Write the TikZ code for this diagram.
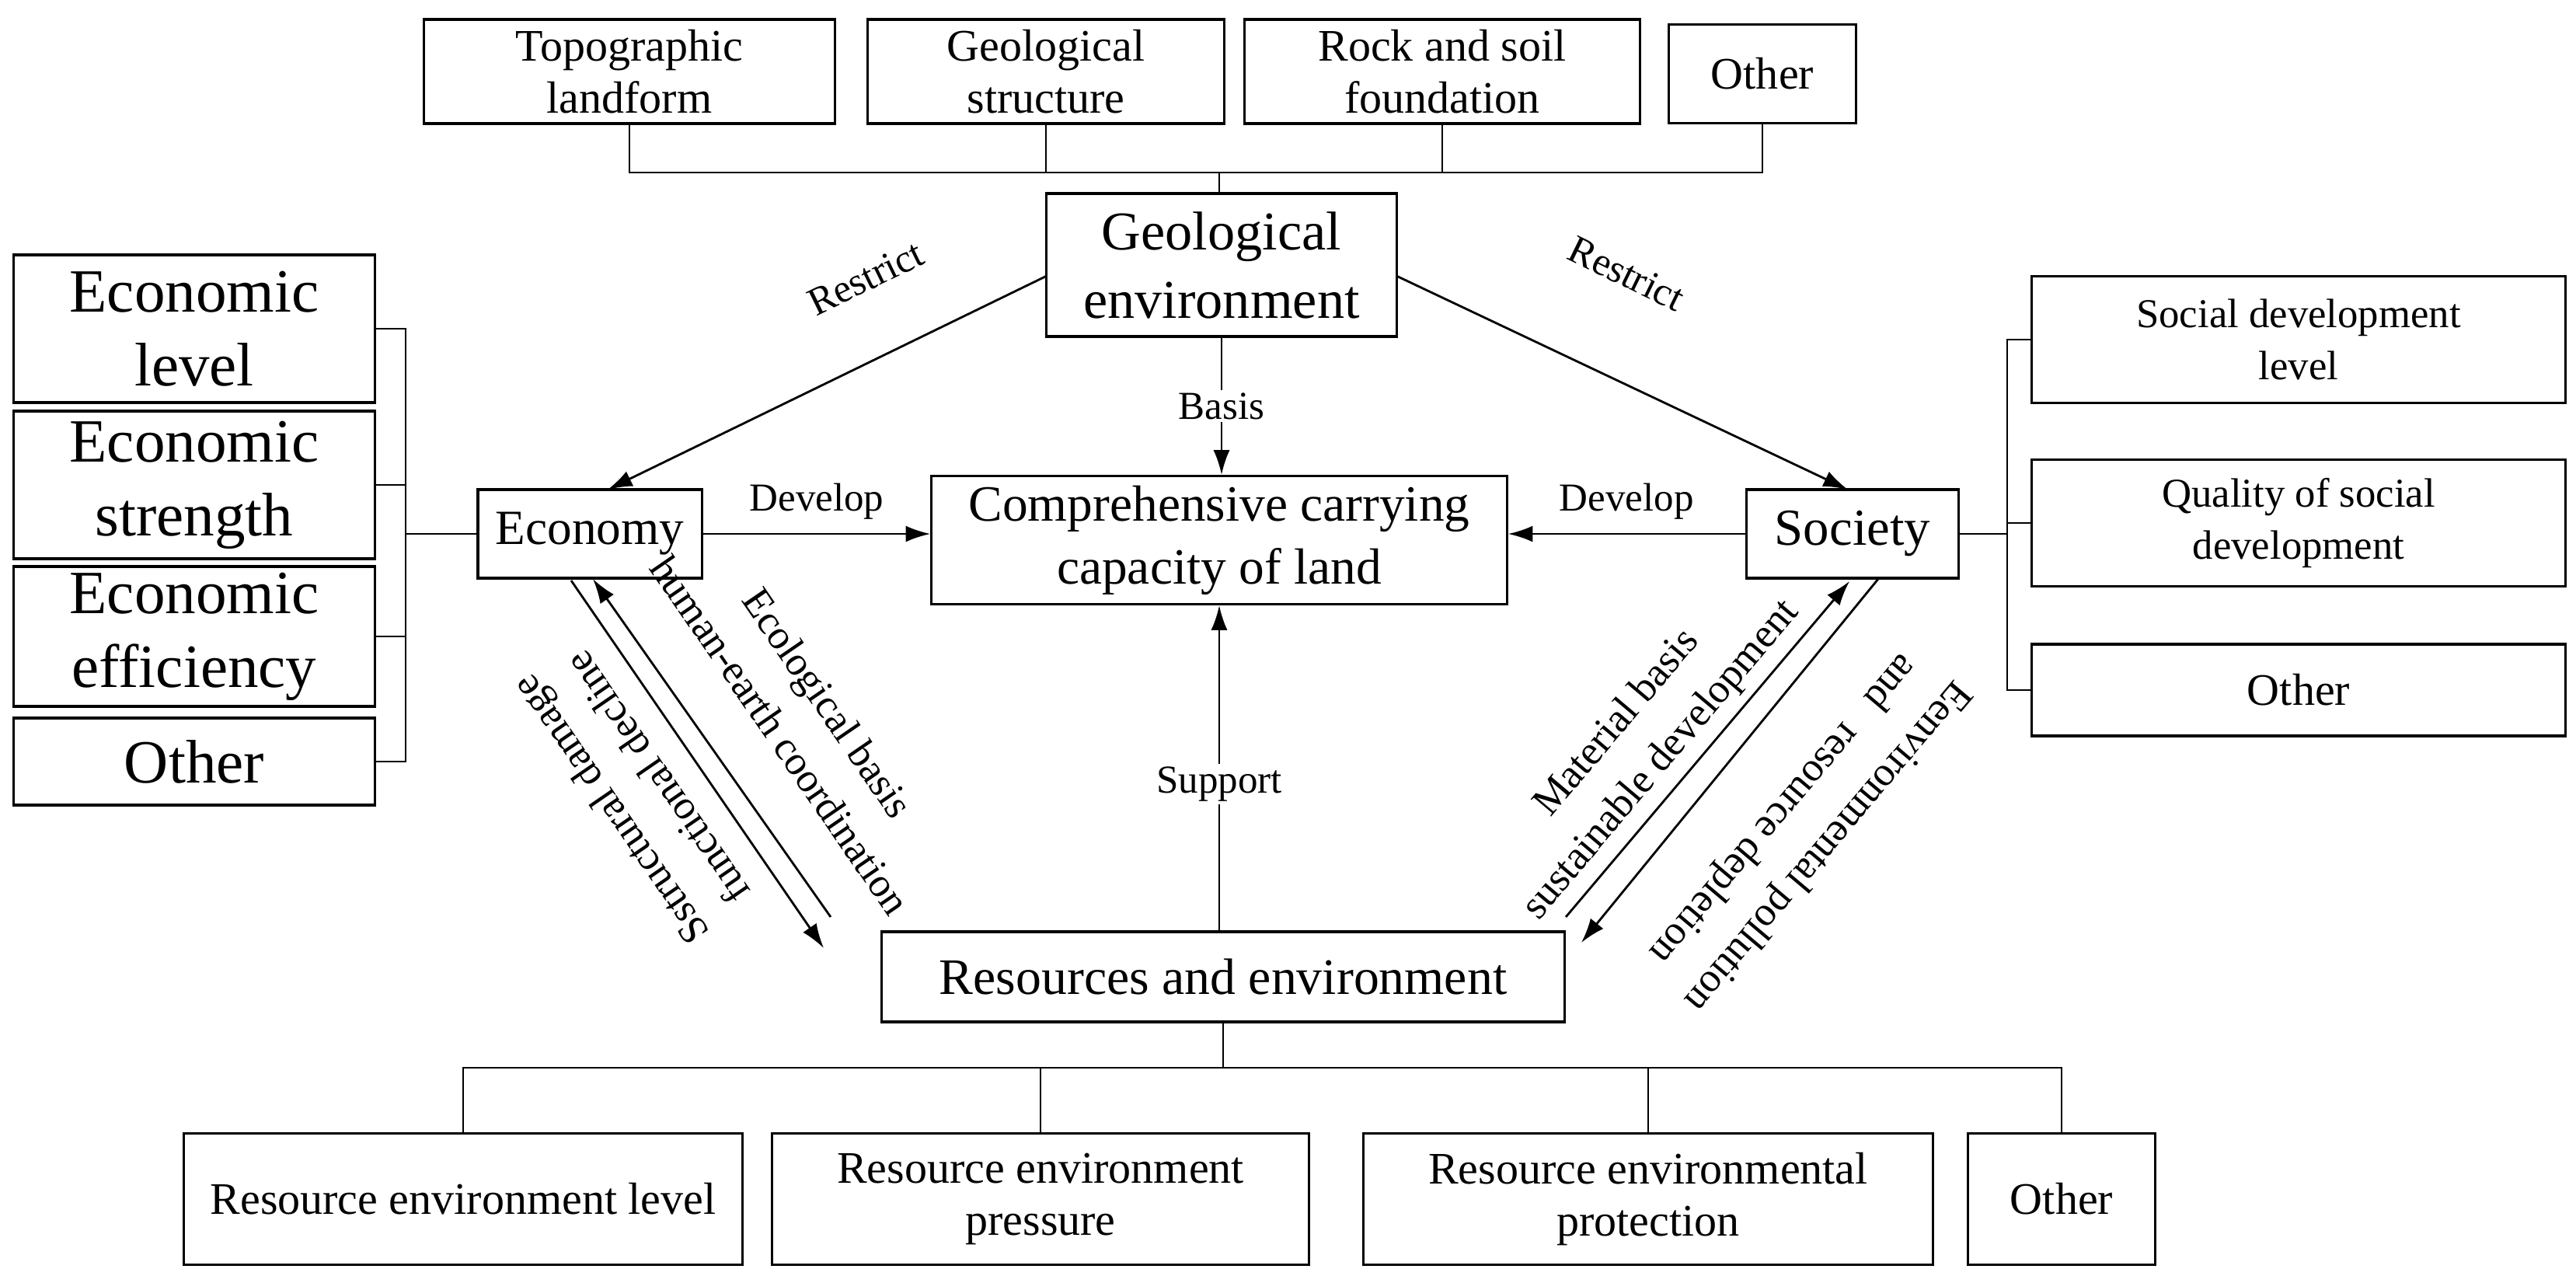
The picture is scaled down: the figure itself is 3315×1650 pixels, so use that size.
\documentclass[tikz,border=0pt]{standalone}
\usepackage{fontspec}
\setmainfont{Liberation Serif}
\usetikzlibrary{arrows.meta}
\begin{document}
\begin{tikzpicture}[x=0.01cm,y=-0.01cm,
  box/.style={draw,line width=0.9pt,align=center,inner sep=0pt},
  ln/.style={line width=0.8pt},
  ar/.style={line width=0.8pt,-{Latex[length=9pt,width=6pt]}},
  lab/.style={font=\fontsize{14.5}{17}\selectfont,align=center,inner sep=1pt},
  dlab/.style={font=\fontsize{15}{21}\selectfont,align=center,inner sep=1pt},
  f15/.style={font=\fontsize{15}{19}\selectfont},
  f16/.style={font=\fontsize{16.5}{19}\selectfont},
  f19/.style={font=\fontsize{19}{23}\selectfont},
  f23/.style={font=\fontsize{22.5}{27}\selectfont}]
\useasboundingbox (0,0) rectangle (3315,1650);
% top
\node[box,f16,minimum width=5.29cm,minimum height=1.34cm] (t1) at (810,92) {Topographic\\landform};
\node[box,f16,minimum width=4.59cm,minimum height=1.34cm] (t2) at (1346,92) {Geological\\structure};
\node[box,f16,minimum width=5.08cm,minimum height=1.34cm] (t3) at (1856,92) {Rock and soil\\foundation};
\node[box,f16,minimum width=2.41cm,minimum height=1.27cm] (t4) at (2268,95) {Other};
\node[box,font=\fontsize{20}{25}\selectfont,minimum width=4.5cm,minimum height=1.84cm] (geo) at (1572,341) {Geological\\environment};
\node[box,font=\fontsize{18}{21}\selectfont,minimum width=2.88cm,minimum height=1.14cm] (eco) at (759,687) {Economy};
\node[box,font=\fontsize{18.6}{23}\selectfont,minimum width=7.4cm,minimum height=1.65cm] (ccc) at (1569,695) {Comprehensive carrying\\capacity of land};
\node[box,f19,minimum width=2.73cm,minimum height=1.14cm] (soc) at (2384,687) {Society};
\node[box,font=\fontsize{18.7}{23}\selectfont,minimum width=8.78cm,minimum height=1.16cm] (res) at (1574,1257) {Resources and environment};
% left
\node[box,f23,minimum width=4.65cm,minimum height=1.9cm] (l1) at (250,423) {Economic\\level};
\node[box,f23,minimum width=4.65cm,minimum height=1.9cm] (l2) at (250,624) {Economic\\strength};
\node[box,f23,minimum width=4.65cm,minimum height=1.8cm] (l3) at (250,819) {Economic\\efficiency};
\node[box,f23,minimum width=4.65cm,minimum height=1.12cm] (l4) at (250,980) {Other};
% right
\node[box,f15,minimum width=6.87cm,minimum height=1.63cm] (r1) at (2958,437) {Social development\\level};
\node[box,f15,minimum width=6.87cm,minimum height=1.63cm] (r2) at (2958,673) {Quality of social\\development};
\node[box,f16,minimum width=6.87cm,minimum height=1.18cm] (r3) at (2958,888) {Other};
% bottom
\node[box,f16,minimum width=7.19cm,minimum height=1.69cm] (b1) at (596,1543) {Resource environment level};
\node[box,f16,minimum width=6.91cm,minimum height=1.69cm] (b2) at (1339,1543) {Resource environment\\pressure};
\node[box,f16,minimum width=7.33cm,minimum height=1.69cm] (b3) at (2121,1543) {Resource environmental\\protection};
\node[box,f16,minimum width=2.41cm,minimum height=1.69cm] (b4) at (2653,1543) {Other};
% top bus
\coordinate (tb) at (1569,222);
\draw[ln] (t1.south) |- (tb) -| (t4.south);
\draw[ln] (t2.south) -- (t2.south |- tb);
\draw[ln] (t3.south) -- (t3.south |- tb);
\draw[ln] (tb) -- (tb |- geo.north);
% left bracket
\coordinate (lb) at (522,687);
\draw[ln] (l1.east) -| (lb) ; \draw[ln] (l4.east) -| (lb);
\draw[ln] (l2.east) -- (l2.east -| lb); \draw[ln] (l3.east) -- (l3.east -| lb);
\draw[ln] (lb) -- (eco.west);
% right bracket
\coordinate (rb) at (2583,687);
\draw[ln] (r1.west) -| (rb); \draw[ln] (r3.west) -| (rb);
\draw[ln] (r2.west) -- (r2.west -| rb);
\draw[ln] (soc.east) -- (rb);
% bottom bus
\coordinate (bb) at (1574,1374);
\draw[ln] (b1.north) |- (bb) -| (b4.north);
\draw[ln] (b2.north) -- (b2.north |- bb);
\draw[ln] (b3.north) -- (b3.north |- bb);
\draw[ln] (res.south) -- (bb);
% arrows
\coordinate (gl) at (1347,355); \coordinate (el) at (782,630);
\coordinate (gr) at (1797,355); \coordinate (sr) at (2378,630);
\draw[ar] (gl) -- (el);
\draw[ar] (gr) -- (sr);
\node[lab,rotate=26] at (1114,358) {Restrict};
\node[lab,rotate=-26] at (2093,352) {Restrict};
\draw[ar] (geo.south) -- node[lab,fill=white]{Basis} (geo.south |- ccc.north);
\draw[ar] (eco.east) -- node[lab,above=4pt]{Develop} (eco.east -| ccc.west);
\draw[ar] (soc.west) -- node[lab,above=4pt]{Develop} (soc.west -| ccc.east);
\draw[ar] (res.north -| ccc.south) -- node[lab,fill=white,pos=0.45]{Support} (ccc.south);
% left diagonals
\coordinate (d1a) at (735,747); \coordinate (d1b) at (1060,1220);
\coordinate (d2a) at (1069,1180); \coordinate (d2b) at (763,745);
\draw[ar] (d1a) -- (d1b);
\draw[ar] (d2a) -- (d2b);
\node[dlab,rotate=-55.5] at (1035,925) {Ecological basis\\human-earth coordination};
\node[dlab,rotate=124.5] at (815,1022) {Sstructural damage\\functional decline};
% right diagonals
\coordinate (d3a) at (2015,1180); \coordinate (d3b) at (2380,748);
\coordinate (d4a) at (2417,745); \coordinate (d4b) at (2035,1213);
\draw[ar] (d3a) -- (d3b);
\draw[ar] (d4a) -- (d4b);
\node[dlab,rotate=49.8] at (2110,955) {Material basis\\sustainable development};
\node[dlab,rotate=229.8] at (2322,1064) {Eenvironmental pollution\\and~~~resource depletion};
\end{tikzpicture}
\end{document}
